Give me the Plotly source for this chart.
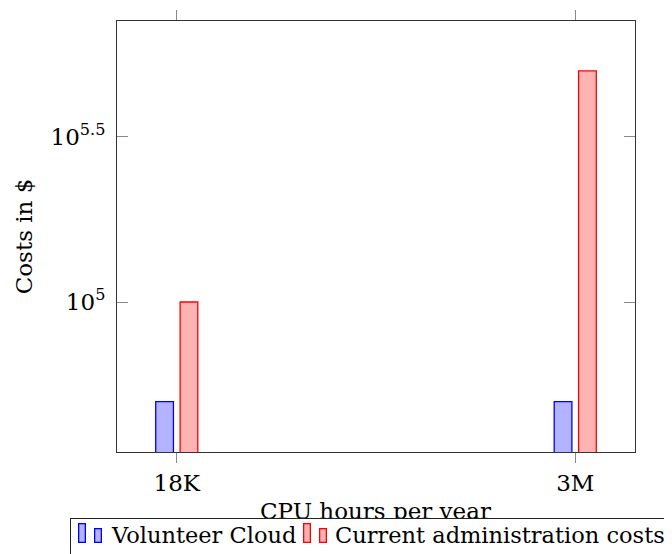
import plotly.graph_objects as go

# ---- data ----
categories = ["18K", "3M"]
volunteer_cloud = [50000, 50000]
admin_costs = [100000, 500000]
series_names = ["Volunteer Cloud", "Current administration costs"]
y_tickvals = [1e5, 10 ** 5.5]
y_ticktext = ["10<sup>5</sup>", "10<sup>5.5</sup>"]
x_title = "CPU hours per year"
y_title = "Costs in $"

# ---- geometry / style ----
OFF = 8  # page body margin offset of the rendered figure
W, H = 664, 546
ML, MR, MT, MB = 109, 37, 13, 102
PW = W - ML - MR
PH = H - MT - MB


def fx(px):
    return (px - OFF - ML) / PW


def fy(py):
    return (H - MB - (py - OFF)) / PH


FONT = "DejaVu Serif"
FS = 23
LEG_FS = 22.5
BLUE_FILL = "#b3b3ff"
RED_FILL = "#ffb3b3"
BLUE = "#0000ff"
RED = "#ff0000"

fig = go.Figure()
fig.add_bar(x=categories, y=volunteer_cloud, name=series_names[0],
            marker=dict(color=BLUE_FILL, line=dict(color=BLUE, width=1.3)))
fig.add_bar(x=categories, y=admin_costs, name=series_names[1],
            marker=dict(color=RED_FILL, line=dict(color=RED, width=1.3)))

fig.update_layout(
    width=W, height=H,
    margin=dict(l=ML, r=MR, t=MT, b=MB, autoexpand=False),
    paper_bgcolor="white", plot_bgcolor="white",
    showlegend=False,
    barmode="group", bargap=0.8776, bargroupgap=0.274,
    font=dict(family=FONT, size=FS, color="black"),
    xaxis=dict(type="category", range=[-0.15, 1.15],
               ticks="outside", ticklen=10, tickwidth=1, tickcolor="#888",
               mirror="ticks", showline=True, linecolor="#333", linewidth=1,
               showgrid=False, zeroline=False,
               tickfont=dict(family=FONT, size=FS, color="black")),
    yaxis=dict(type="log", range=[4.5463, 5.850],
               tickvals=y_tickvals, ticktext=y_ticktext,
               ticks="inside", ticklen=11, tickwidth=1, tickcolor="#888",
               mirror="ticks", showline=True, linecolor="#333", linewidth=1,
               showgrid=False, zeroline=False, ticklabelstandoff=6,
               tickfont=dict(family=FONT, size=FS, color="black"),
               title=dict(text=y_title, standoff=11,
                          font=dict(family=FONT, size=FS, color="black"))),
)

anns = []
# x axis title (annotation so the legend box can cover it)
anns.append(dict(text=x_title, xref="paper", yref="paper", x=fx(375.6), y=fy(497),
                 xanchor="center", yanchor="top", showarrow=False, borderpad=0,
                 font=dict(family=FONT, size=FS, color="black")))
# legend box
anns.append(dict(text=" ", xref="paper", yref="paper", x=fx(69.5), y=fy(517.7),
                 xanchor="left", yanchor="top", showarrow=False,
                 width=640, height=60, bgcolor="white", bordercolor="#222",
                 borderwidth=1, borderpad=0, font=dict(size=2)))
# legend icons (two small bars per entry)
icons = [(78.3, 523.3, 20, BLUE, BLUE_FILL), (94.3, 528.3, 15, BLUE, BLUE_FILL),
         (303.3, 523.3, 20, RED, RED_FILL), (319.3, 528.3, 15, RED, RED_FILL)]
for (lx, ty, h, lc, fc) in icons:
    anns.append(dict(text=" ", xref="paper", yref="paper", x=fx(lx), y=fy(ty),
                     xanchor="left", yanchor="top", showarrow=False,
                     width=5.4, height=h - 2.6, bgcolor=fc, bordercolor=lc,
                     borderwidth=1.3, borderpad=0, font=dict(size=2)))
# legend texts
for (lx, name) in [(110, series_names[0]), (334, series_names[1])]:
    anns.append(dict(text=name, xref="paper", yref="paper", x=fx(lx), y=fy(535),
                     xanchor="left", yanchor="middle", showarrow=False, borderpad=0,
                     font=dict(family=FONT, size=LEG_FS, color="black")))
fig.update_layout(annotations=anns)

fig.write_html("out.html")
